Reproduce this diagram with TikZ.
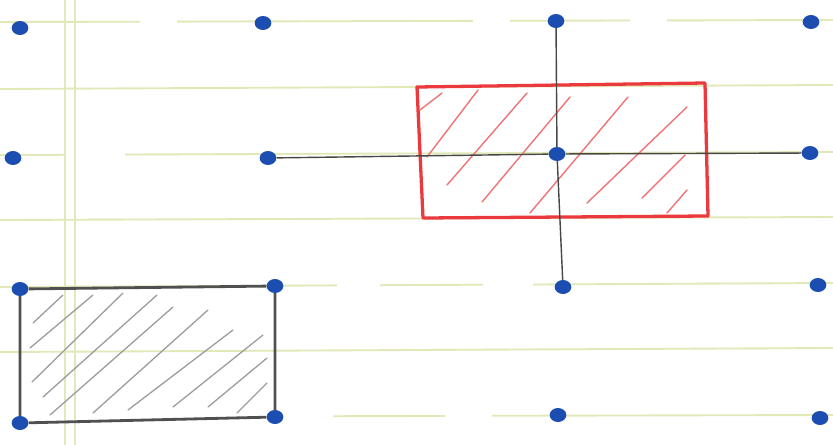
\documentclass[tikz,border=0pt]{standalone}
\usetikzlibrary{shapes.geometric, backgrounds}

\definecolor{ruling}{HTML}{E2E8B8}
\definecolor{inkblue}{HTML}{1C4DB0}
\definecolor{inkred}{HTML}{EA3A3E}
\definecolor{hatchred}{HTML}{F07476}
\definecolor{inkgrey}{HTML}{505050}
\definecolor{hatchgrey}{HTML}{9C9C9C}
\definecolor{pencil}{HTML}{474747}

\begin{document}
\begin{tikzpicture}[x=0.03cm, y=-0.03cm,
    bluedot/.style={ellipse, fill=inkblue, inner sep=0pt,
                    minimum width=0.5cm, minimum height=0.42cm},
    ruleline/.style={ruling, line width=1.6pt},
    redbox/.style={inkred, line width=2.8pt, line join=round},
    greybox/.style={inkgrey, line width=2.4pt},
    hatchr/.style={hatchred, line width=1.2pt, line cap=round},
    hatchg/.style={hatchgrey, line width=1.1pt, line cap=round},
    pen/.style={pencil, line width=1.2pt}]
  \useasboundingbox (0,0) rectangle (833,445);

  % Ruled paper
  \begin{scope}[on background layer]
    \fill[white] (0,0) rectangle (833,445);
    \foreach \xa/\ya/\xb/\yb in {0/22/140/21.7, 177/21.6/473/20.9, 510/20.8/630/20.5, 667/20.4/833/20,
        0/89/833/85,
        0/155/65/154.8, 125/154.5/833/152,
        0/220/833/217,
        0/287/337/285.4, 380/285.2/483/284.7, 533/284.5/833/283,
        0/352/833/348,
        333/416.2/445/416, 492/415.8/833/415}
      \draw[ruleline] (\xa,\ya) -- (\xb,\yb);
    \draw[ruleline] (65,0) -- (65,445);
    \draw[ruleline] (75,0) -- (75,445);
  \end{scope}

  % Red hatched box
  \foreach \xa/\ya/\xb/\yb in {420/110/442/93, 427/157/478/90, 447/185/527/93,
      482/202/570/97, 530/213/628/97, 587/203/687/107, 642/198/685/155, 667/213/687/190}
    \draw[hatchr] (\xa,\ya) -- (\xb,\yb);
  \draw[redbox] (417,87) -- (705,83) -- (708,216) -- (423,218) -- cycle;

  % Grey hatching
  \foreach \xa/\ya/\xb/\yb in {33/323/63/295, 30/348/93/295, 32/382/123/293,
      43/397/157/295, 50/415/173/307, 93/413/208/310, 128/410/233/330,
      173/407/263/335, 208/407/267/358, 237/413/267/383}
    \draw[hatchg] (\xa,\ya) -- (\xb,\yb);

  % Blue dots
  \foreach \n/\x/\y in {p11/20/28, p12/263/23, p13/556/21, p14/811/22,
      p21/13/158, p22/268/158, p23/557/154, p24/810/153,
      p31/20/289, p32/275/286, p33/563/287, p34/818/285,
      p41/20/423, p42/275/417, p43/558/415, p44/820/418}
    \node[bluedot] (\n) at (\x,\y) {};

  % Grey box
  \draw[greybox] (p31) -- (p32) (p32) -- (p42) (p42) -- (p41) (p41) -- (p31);

  % Pencil cross
  \draw[pen] (p22) -- (p23);
  \draw[pen] (p23) -- (p24);
  \draw[pen] (p13) -- (p23);
  \draw[pen] (p23) -- (p33);
\end{tikzpicture}
\end{document}
